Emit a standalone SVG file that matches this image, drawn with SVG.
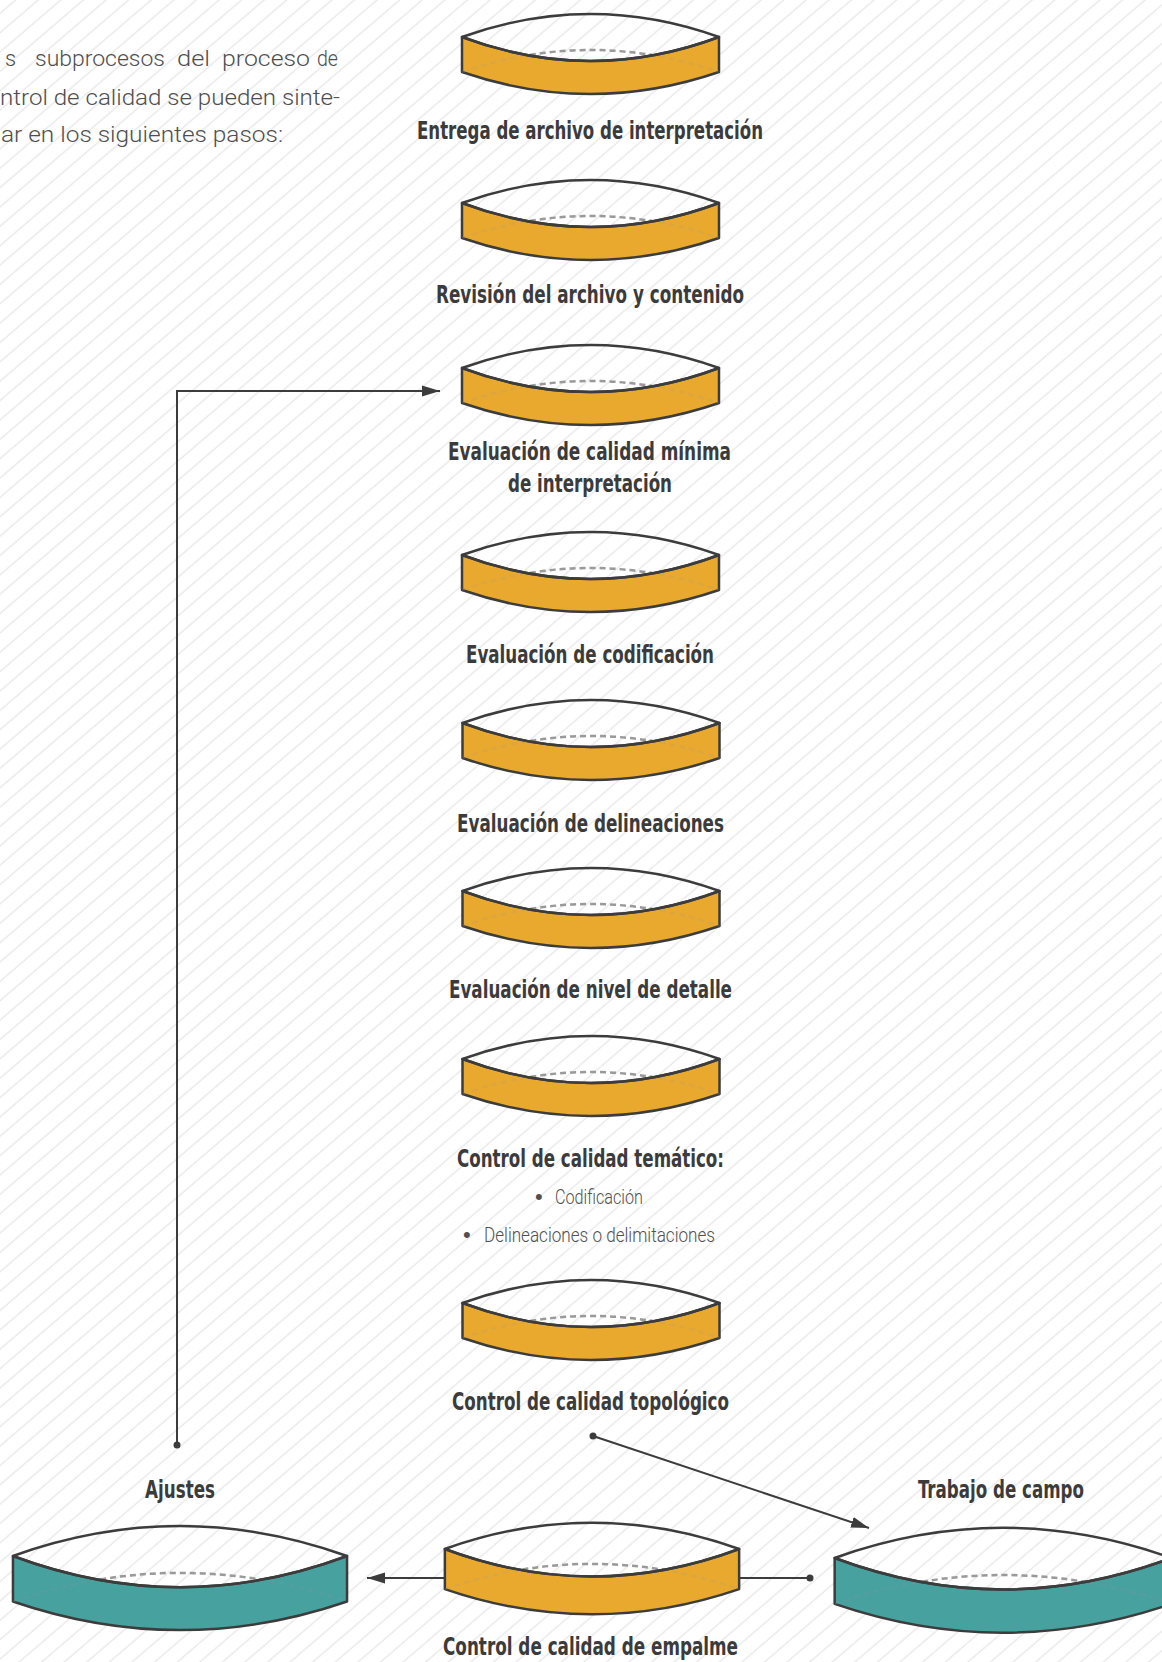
<svg xmlns="http://www.w3.org/2000/svg" xmlns:xlink="http://www.w3.org/1999/xlink" width="1162" height="1662" viewBox="0 0 1162 1662">
<style>
  .lbl { font-family: "Liberation Sans Narrow", "DejaVu Sans Condensed", "Liberation Sans", sans-serif; font-weight: bold; font-size: 25px; fill: #3b3b3b; text-anchor: middle; }
  .bul { font-family: Roboto, "Liberation Sans Narrow", "Liberation Sans", sans-serif; font-weight: 300; font-size: 21px; fill: #505050; }
  .bdot { font-family: "Liberation Sans", sans-serif; font-size: 22px; fill: #505050; }
  .par { font-family: Roboto, "Open Sans", "Liberation Sans", sans-serif; font-weight: 300; font-size: 22px; fill: #4e4e4e; }
  .ln { fill: none; stroke: #3c3c3c; stroke-width: 2; }
  .dot { fill: #3c3c3c; }
  .band { fill: currentColor; stroke: #3c3c3c; stroke-width: 2.5; stroke-linejoin: round; vector-effect: non-scaling-stroke; }
  .lens { fill: none; stroke: #3c3c3c; stroke-width: 2.5; stroke-linejoin: round; vector-effect: non-scaling-stroke; }
  .dash { fill: none; stroke: #9a9a9a; stroke-width: 2.5; stroke-dasharray: 6 4; vector-effect: non-scaling-stroke; }
  .faint { opacity: 0.15; }
</style>
<defs>
  <pattern id="hatch" patternUnits="userSpaceOnUse" width="20" height="14.7" patternTransform="rotate(-40.6)">
    <rect x="0" y="9.5" width="20" height="1.4" fill="#e8e8e8"/>
  </pattern>
  <marker id="arr" markerUnits="userSpaceOnUse" markerWidth="18" markerHeight="12" refX="18" refY="6" orient="auto">
    <path d="M0,0.5 L18,6 L0,11.5 Z" fill="#3c3c3c"/>
  </marker>
  <g id="cyl">
    <path class="dash" d="M-128.5,35 Q0,-9 128.5,35"/>
    <path class="band" d="M-128.5,0 Q0,48 128.5,0 L128.5,35 Q0,79 -128.5,35 Z"/>
    <path class="dash faint" d="M-128.5,35 Q0,-9 128.5,35"/>
    <path class="lens" d="M-128.5,0 Q0,-46 128.5,0 Q0,48 -128.5,0 Z"/>
  </g>
</defs>
<rect width="1162" height="1662" fill="#ffffff"/>
<rect width="1162" height="1662" fill="url(#hatch)"/>

<g id="intro">
  <text class="par" y="66"><tspan x="5">s</tspan><tspan x="35" textLength="130" lengthAdjust="spacingAndGlyphs">subprocesos</tspan><tspan x="177" textLength="33" lengthAdjust="spacingAndGlyphs">del</tspan><tspan x="222" textLength="88" lengthAdjust="spacingAndGlyphs">proceso</tspan><tspan x="317" textLength="21" lengthAdjust="spacingAndGlyphs">de</tspan></text>
  <text class="par" x="0" y="104.5" textLength="340" lengthAdjust="spacingAndGlyphs">ntrol de calidad se pueden sinte-</text>
  <text class="par" x="1" y="142" textLength="282" lengthAdjust="spacingAndGlyphs">ar en los siguientes pasos:</text>
</g>

<g id="connectors">
  <path class="ln" d="M177,1445 V391 H440" marker-end="url(#arr)"/>
  <circle class="dot" cx="177" cy="1445" r="3.5"/>
  <path class="ln" d="M593,1436 L869,1528" marker-end="url(#arr)"/>
  <circle class="dot" cx="593" cy="1436" r="3.5"/>
  <path class="ln" d="M446,1578 H367" marker-end="url(#arr)"/>
  <path class="ln" d="M810,1578 H739"/>
  <circle class="dot" cx="810" cy="1578" r="3.5"/>
</g>

<g id="n1">
  <use xlink:href="#cyl" transform="translate(590.5,37)" color="#E9A92F"/>
  <text class="lbl" x="590" y="139" textLength="346" lengthAdjust="spacingAndGlyphs">Entrega de archivo de interpretación</text>
</g>
<g id="n2">
  <use xlink:href="#cyl" transform="translate(590.5,203)" color="#E9A92F"/>
  <text class="lbl" x="590" y="303" textLength="308" lengthAdjust="spacingAndGlyphs">Revisión del archivo y contenido</text>
</g>
<g id="n3">
  <use xlink:href="#cyl" transform="translate(590.5,368)" color="#E9A92F"/>
  <text class="lbl" x="589.5" y="460" textLength="283" lengthAdjust="spacingAndGlyphs">Evaluación de calidad mínima</text>
  <text class="lbl" x="590" y="492" textLength="164" lengthAdjust="spacingAndGlyphs">de interpretación</text>
</g>
<g id="n4">
  <use xlink:href="#cyl" transform="translate(590.5,555)" color="#E9A92F"/>
  <text class="lbl" x="590" y="663" textLength="248" lengthAdjust="spacingAndGlyphs">Evaluación de codificación</text>
</g>
<g id="n5">
  <use xlink:href="#cyl" transform="translate(591,723)" color="#E9A92F"/>
  <text class="lbl" x="590.5" y="832" textLength="267" lengthAdjust="spacingAndGlyphs">Evaluación de delineaciones</text>
</g>
<g id="n6">
  <use xlink:href="#cyl" transform="translate(591,891)" color="#E9A92F"/>
  <text class="lbl" x="590.5" y="998" textLength="283" lengthAdjust="spacingAndGlyphs">Evaluación de nivel de detalle</text>
</g>
<g id="n7">
  <use xlink:href="#cyl" transform="translate(591,1059)" color="#E9A92F"/>
  <text class="lbl" x="590.5" y="1167" textLength="267" lengthAdjust="spacingAndGlyphs">Control de calidad temático:</text>
  <text class="bul" y="1204"><tspan class="bdot" x="535">•</tspan><tspan x="555" textLength="88" lengthAdjust="spacingAndGlyphs">Codificación</tspan></text>
  <text class="bul" y="1242"><tspan class="bdot" x="463">•</tspan><tspan x="484" textLength="231" lengthAdjust="spacingAndGlyphs">Delineaciones o delimitaciones</tspan></text>
</g>
<g id="n8">
  <use xlink:href="#cyl" transform="translate(591,1303)" color="#E9A92F"/>
  <text class="lbl" x="590.5" y="1410" textLength="277" lengthAdjust="spacingAndGlyphs">Control de calidad topológico</text>
</g>
<g id="n9">
  <use xlink:href="#cyl" transform="translate(592,1549) scale(1.145)" color="#E9A92F"/>
  <text class="lbl" x="590.5" y="1655" textLength="295" lengthAdjust="spacingAndGlyphs">Control de calidad de empalme</text>
</g>
<g id="n10">
  <use xlink:href="#cyl" transform="translate(180,1556) scale(1.3)" color="#47A19F"/>
  <text class="lbl" x="180" y="1498" textLength="70" lengthAdjust="spacingAndGlyphs">Ajustes</text>
</g>
<g id="n11">
  <use xlink:href="#cyl" transform="translate(1003,1558) scale(1.31)" color="#47A19F"/>
  <text class="lbl" x="1001" y="1498" textLength="166" lengthAdjust="spacingAndGlyphs">Trabajo de campo</text>
</g>
</svg>
